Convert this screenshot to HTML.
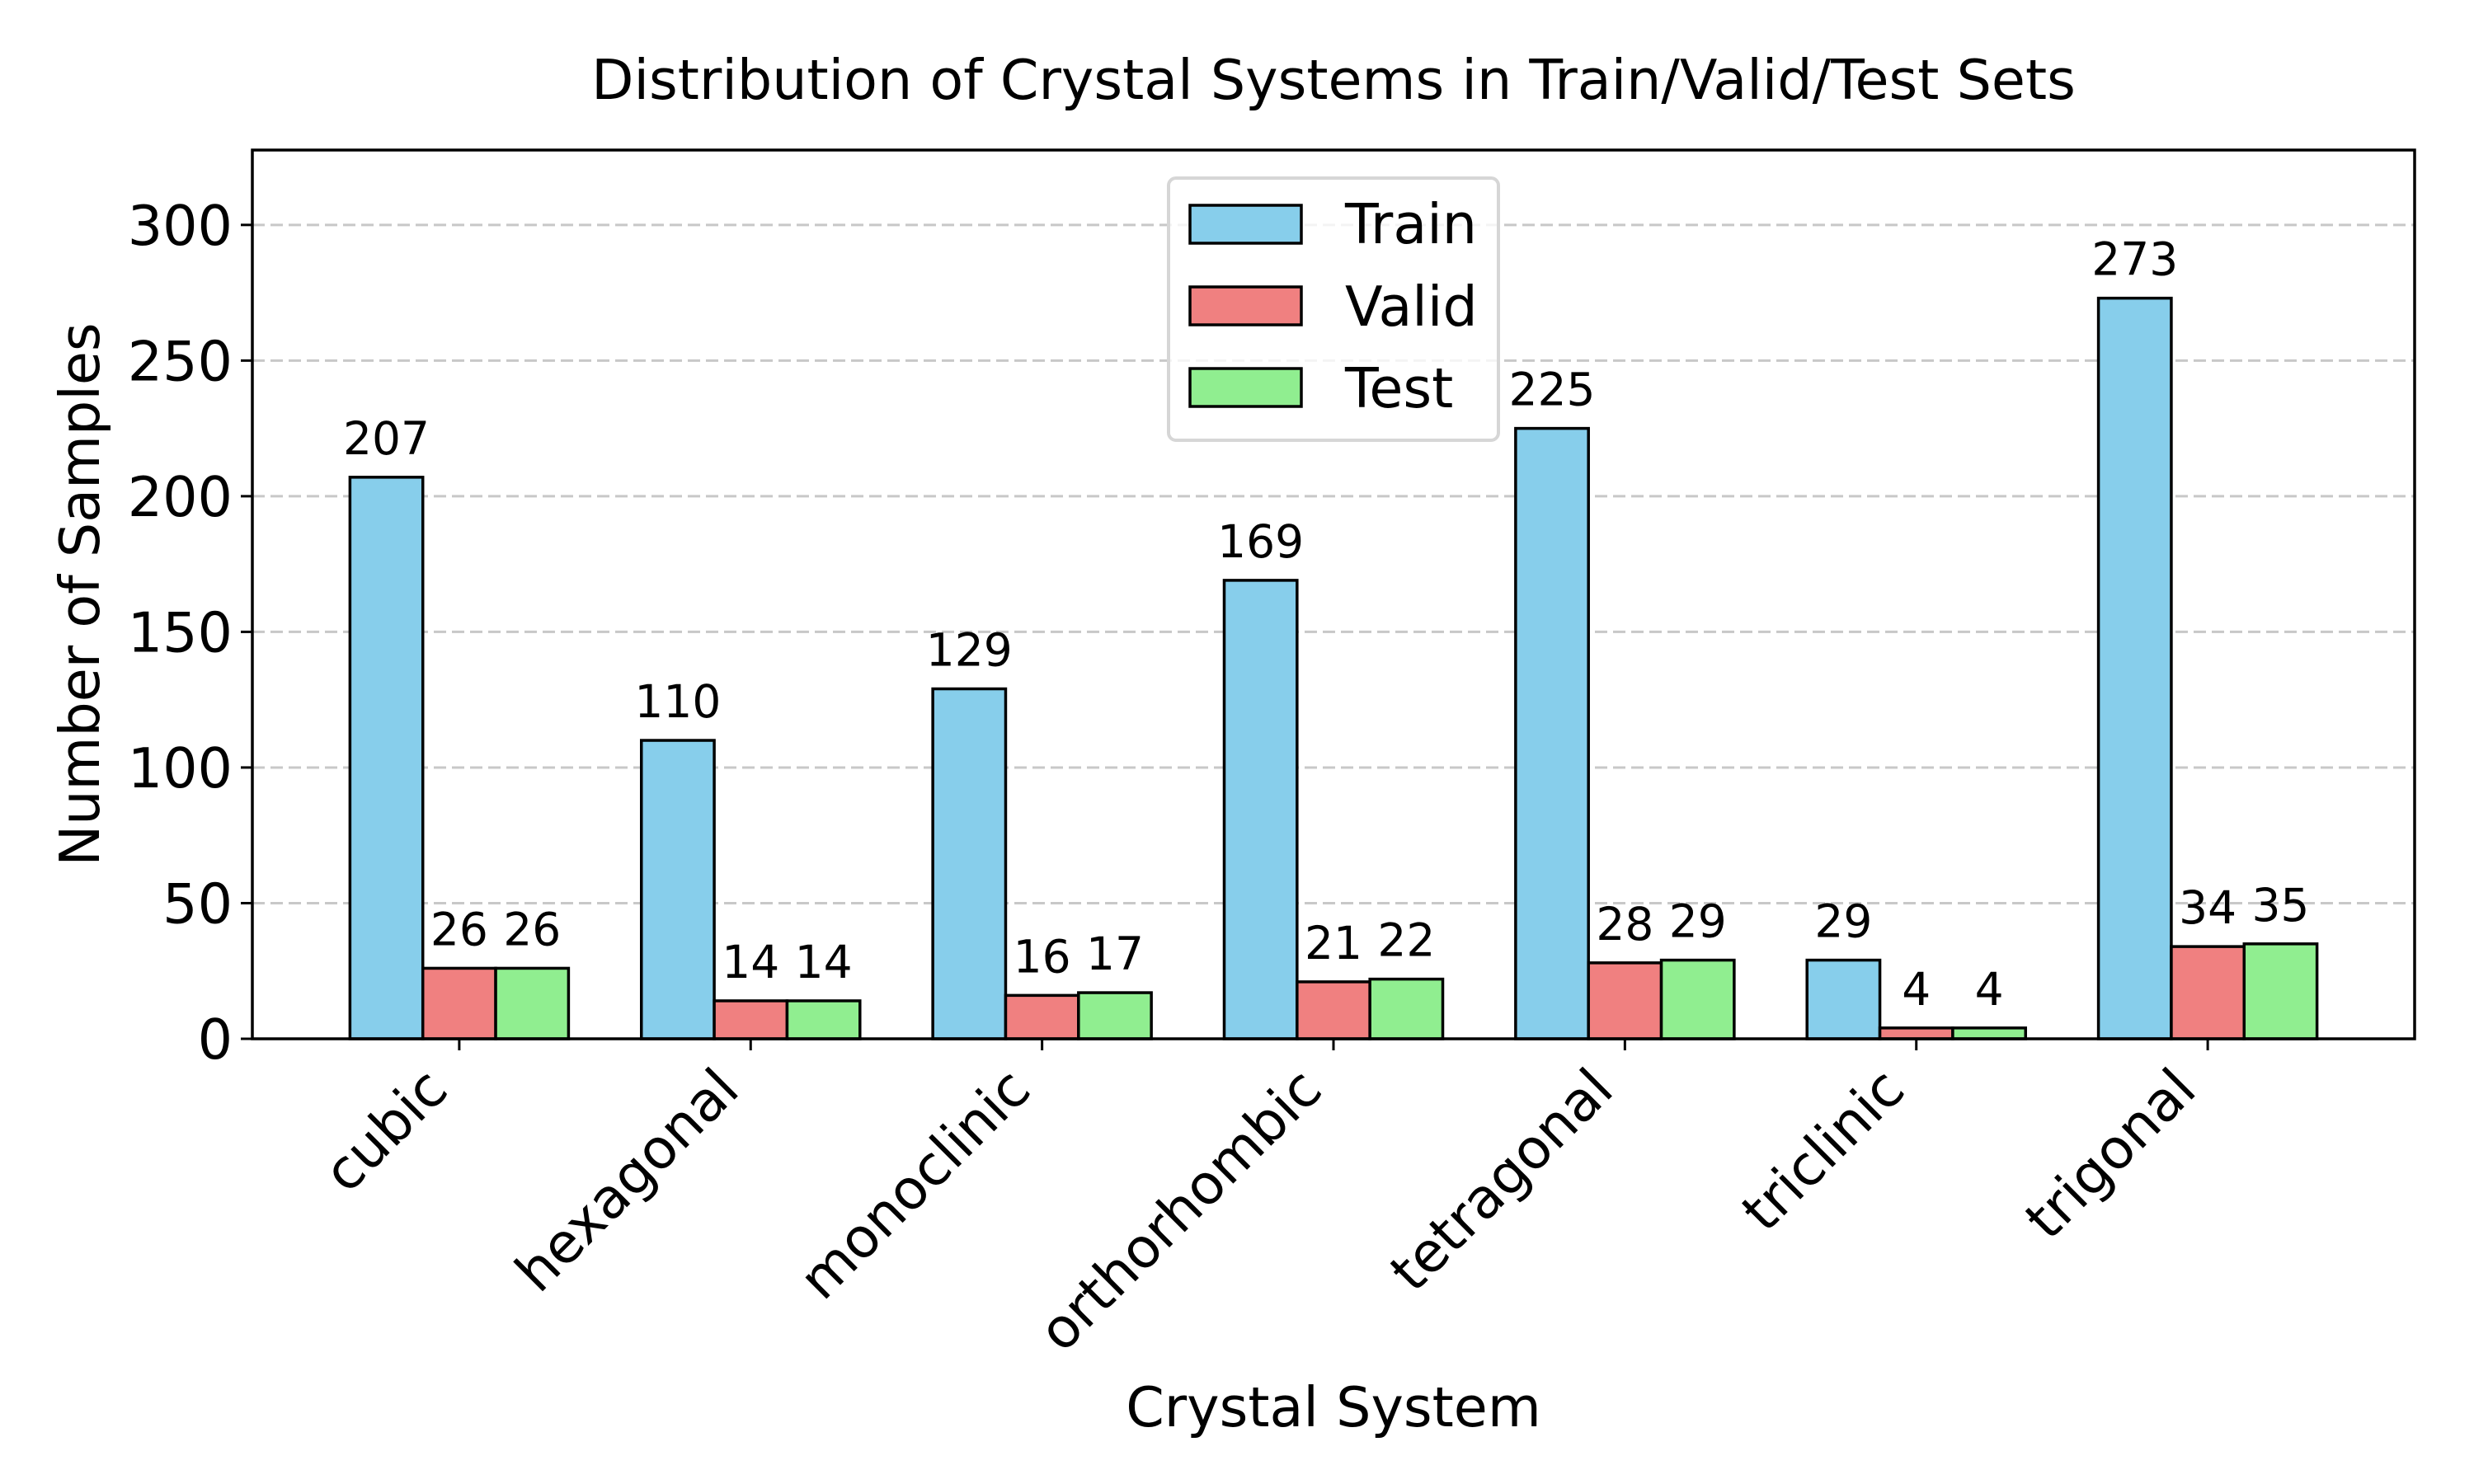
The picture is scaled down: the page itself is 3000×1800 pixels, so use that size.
<!DOCTYPE html>
<html><head><meta charset="utf-8"><style>
html,body{margin:0;padding:0;background:#fff;}
svg{display:block;font-family:"DejaVu Sans","Liberation Sans",sans-serif;}
</style></head><body>
<svg id="chart" width="3000" height="1800" viewBox="0 0 3000 1800" xmlns="http://www.w3.org/2000/svg">
<rect width="3000" height="1800" fill="#fff"/>
<text x="1617" y="120" font-size="66.7" text-anchor="middle">Distribution of Crystal Systems in Train/Valid/Test Sets</text>
<g id="grid"></g>
<g id="bars"></g>
<g id="labels"></g>
<rect x="306" y="182" width="2622" height="1078" fill="none" stroke="#000" stroke-width="3.5"/>
<g id="axes"></g>
<text transform="translate(120,721) rotate(-90)" font-size="66.7" text-anchor="middle">Number of Samples</text>
<text x="1617" y="1730" font-size="66.7" text-anchor="middle">Crystal System</text>
<g>
<rect x="1417" y="216" width="400" height="318" rx="9" fill="#fff" fill-opacity="0.8" stroke="#d6d6d6" stroke-width="4"/>
<g><rect x="1443" y="249" width="135" height="46" fill="#87CEEB" stroke="#000" stroke-width="3.5"/><text x="1631" y="295" font-size="66.7">Train</text></g>
<g><rect x="1443" y="348" width="135" height="46" fill="#F08080" stroke="#000" stroke-width="3.5"/><text x="1631" y="395" font-size="66.7">Valid</text></g>
<g><rect x="1443" y="447" width="135" height="46" fill="#90EE90" stroke="#000" stroke-width="3.5"/><text x="1631" y="494" font-size="66.7">Test</text></g>
</g>
</svg>
<script>
const categories = ["cubic","hexagonal","monoclinic","orthorhombic","tetragonal","triclinic","trigonal"];
const trainValues = [207,110,129,169,225,29,273];
const validValues = [26,14,16,21,28,4,34];
const testValues = [26,14,17,22,29,4,35];
const yTicks = [0,50,100,150,200,250,300];
const seriesNames = ["train","valid","test"];

const NS = "http://www.w3.org/2000/svg";
const L = 306, R = 2928, T = 182, B = 1260;
const yMax = 327.6;
const xMin = -0.71, xMax = categories.length - 1 + 0.71;
function xs(v){ return L + (v - xMin) / (xMax - xMin) * (R - L); }
function ys(v){ return B - v / yMax * (B - T); }
function mk(tag, attrs, parent){ const e = document.createElementNS(NS, tag); for (const k in attrs) e.setAttribute(k, attrs[k]); parent.appendChild(e); return e; }

const grid = document.getElementById('grid');
const bars = document.getElementById('bars');
const labels = document.getElementById('labels');
const axes = document.getElementById('axes');

yTicks.forEach(t => {
  const y = ys(t);
  if (t > 0) {
    const g = mk('line', {x1:L, x2:R, y1:y, y2:y, stroke:'#c8c8c8', 'stroke-width':3, 'stroke-dasharray':'15 7'}, grid);
    
    
  }
  const tk = mk('line', {x1:L-14, x2:L, y1:y, y2:y, stroke:'#000', 'stroke-width':3}, axes);
  
  
  const tl = mk('text', {x:L-24, y:y+24, 'font-size':66.7, 'text-anchor':'end'}, axes);
  tl.textContent = t;
  
  
});

const series = [trainValues, validValues, testValues];
const colors = ['#87CEEB','#F08080','#90EE90'];
const bw = 0.25;
categories.forEach((c, i) => {
  series.forEach((vals, s) => {
    const cx = i + (s - 1) * bw;
    const x0 = xs(cx - bw/2), x1 = xs(cx + bw/2);
    const y = ys(vals[i]);
    const r = mk('rect', {x:x0, y:y, width:x1-x0, height:B-y, fill:colors[s], stroke:'#000', 'stroke-width':3.5}, bars);
    
    
    const t = mk('text', {x:xs(cx), y:y-28, 'font-size':55, 'text-anchor':'middle'}, labels);
    t.textContent = vals[i];
    
    
  });
  const x = xs(i);
  const tk = mk('line', {x1:x, x2:x, y1:B, y2:B+14, stroke:'#000', 'stroke-width':3}, axes);
  
  
  const px = x - 11, py = B + 65;
  const tl = mk('text', {x:0, y:0, 'font-size':66.7, 'text-anchor':'end', transform:'translate(' + px + ',' + py + ') rotate(-45)'}, axes);
  tl.textContent = c;
  
  
});
</script>
</body></html>
